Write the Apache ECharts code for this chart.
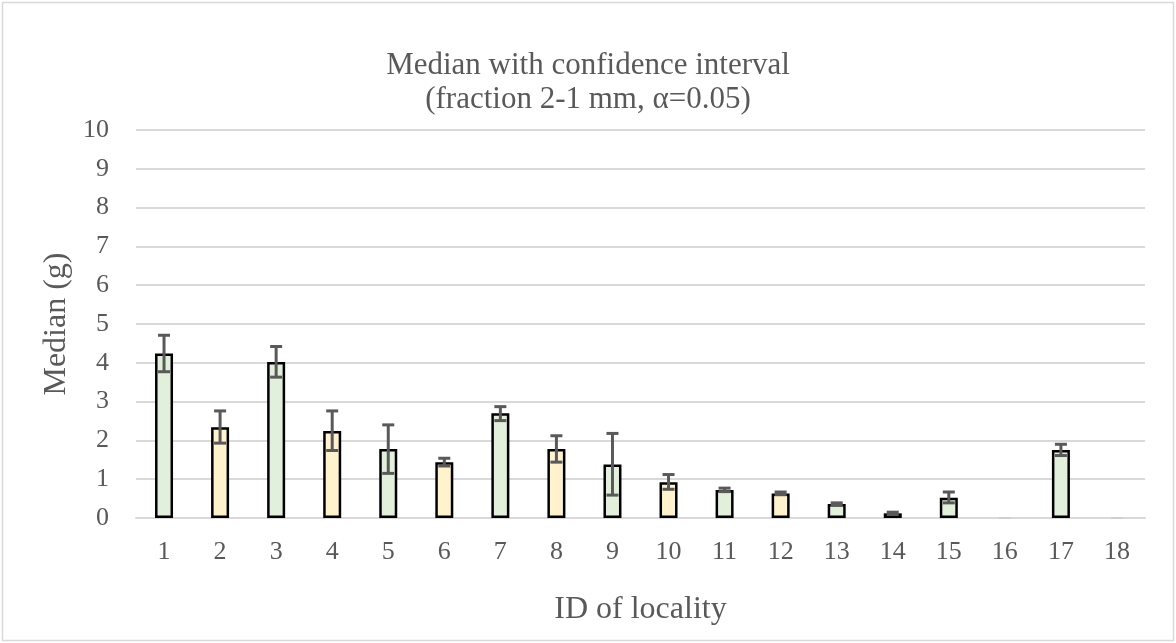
<!DOCTYPE html>
<html>
<head>
<meta charset="utf-8">
<script src="https://cdn.jsdelivr.net/npm/echarts@6/dist/echarts.min.js"></script>
<style>html,body{margin:0;padding:0;background:#fff}#c{width:1176px;height:643px}</style>
</head>
<body>
<div id="c"></div>
<script>
const categories = ['1','2','3','4','5','6','7','8','9','10','11','12','13','14','15','16','17','18'];
const medians = [4.24, 2.34, 4.02, 2.24, 1.78, 1.44, 2.70, 1.78, 1.38, 0.92, 0.72, 0.63, 0.36, 0.12, 0.52, 0, 1.75, 0];
const lowerCI = [3.77, 1.93, 3.63, 1.74, 1.15, 1.34, 2.51, 1.44, 0.59, 0.74, 0.68, 0.60, 0.33, 0.09, 0.39, 0, 1.61, 0];
const upperCI = [4.71, 2.76, 4.42, 2.76, 2.40, 1.54, 2.87, 2.12, 2.18, 1.12, 0.77, 0.67, 0.39, 0.15, 0.67, 0, 1.90, 0];
const groups  = ['A','B','A','B','A','B','A','B','A','B','A','B','A','B','A','B','A','B'];
const yTicks = [0,1,2,3,4,5,6,7,8,9,10];

const groupColor = {A: '#E2EFDA', B: '#FFF2CC'};
const font = '"Liberation Serif", "Times New Roman", serif';
const txt = '#595959';

const chart = echarts.init(document.getElementById('c'), null, {renderer: 'canvas'});
chart.setOption({
  animation: false,
  backgroundColor: '#fff',
  graphic: [{type: 'rect', shape: {x: 2.5, y: 2.5, width: 1171, height: 638}, style: {fill: 'none', stroke: '#d9d9d9', lineWidth: 1.5}, silent: true}],
  title: {
    text: 'Median with confidence interval\n(fraction 2-1 mm, α=0.05)',
    left: 'center', top: 44,
    textStyle: {fontFamily: font, fontSize: 31, fontWeight: 'normal', color: txt, lineHeight: 34}
  },
  grid: {left: 136, right: 31, top: 130, bottom: 125},
  xAxis: {
    type: 'category', data: categories,
    axisLine: {lineStyle: {color: '#d9d9d9', width: 2}},
    axisTick: {show: false},
    axisLabel: {fontFamily: font, fontSize: 26, color: txt, margin: 21},
    name: 'ID of locality', nameLocation: 'middle', nameGap: 76,
    nameTextStyle: {fontFamily: font, fontSize: 32, color: txt}
  },
  yAxis: {
    type: 'value', min: yTicks[0], max: yTicks[yTicks.length - 1], interval: 1,
    axisLine: {show: false}, axisTick: {show: false},
    splitLine: {lineStyle: {color: '#d9d9d9', width: 2}},
    axisLabel: {fontFamily: font, fontSize: 26, color: txt, margin: 27},
    name: 'Median (g)', nameLocation: 'middle', nameGap: 62, nameRotate: 90,
    nameTextStyle: {fontFamily: font, fontSize: 32, color: txt}
  },
  series: [
    {
      type: 'bar', barWidth: 18,
      data: medians.map((v, i) => ({
        value: v,
        itemStyle: {color: groupColor[groups[i]], borderColor: '#000', borderWidth: v > 0 ? 2.5 : 0}
      }))
    },
    {
      type: 'custom',
      data: categories.map((c, i) => [i, lowerCI[i], upperCI[i]]),
      renderItem: function (params, api) {
        const x = api.value(0);
        const lo = api.coord([x, api.value(1)]);
        const hi = api.coord([x, api.value(2)]);
        const hw = 6;
        const zero = api.value(1) === api.value(2) && api.value(1) === 0;
        const st = {stroke: zero ? '#cfcfcf' : '#595959', lineWidth: zero ? 2 : 3};
        return {
          type: 'group',
          children: [
            {type: 'line', shape: {x1: lo[0], y1: lo[1], x2: hi[0], y2: hi[1]}, style: st},
            {type: 'line', shape: {x1: hi[0] - hw, y1: hi[1], x2: hi[0] + hw, y2: hi[1]}, style: st},
            {type: 'line', shape: {x1: lo[0] - hw, y1: lo[1], x2: lo[0] + hw, y2: lo[1]}, style: st}
          ]
        };
      },
      z: 10
    }
  ]
});
</script>
</body>
</html>
